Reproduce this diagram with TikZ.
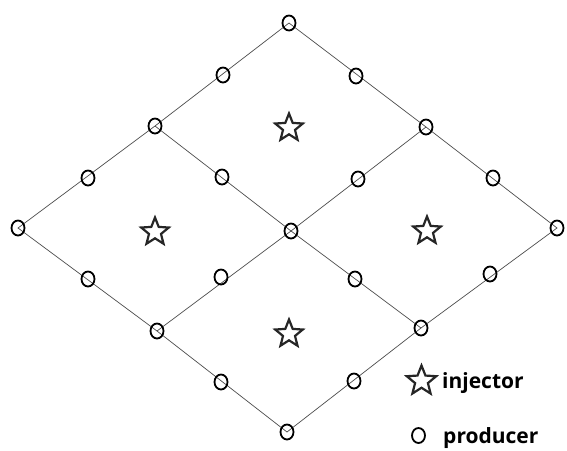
\documentclass[tikz,border=0pt]{standalone}
\usepackage{fontspec}
\setmainfont{Open Sans}
\usetikzlibrary{shapes.geometric}
\begin{document}
\begin{tikzpicture}[x=1pt,y=-1pt,
  well/.style={draw=black,line width=1.8pt,ellipse,minimum width=13pt,minimum height=15pt,inner sep=0pt},
  inj/.style={draw=black!85,line width=2.2pt,star,star points=5,star point ratio=2.3,minimum size=29pt,inner sep=0pt},
  grid/.style={draw=black!70,line width=0.7pt},
  lbl/.style={font=\bfseries\fontsize{21}{24}\selectfont,anchor=base west,inner sep=0pt}]
\useasboundingbox (0,0) rectangle (567,450);
% corner / vertex coordinates
\coordinate (T) at (289,23);
\coordinate (L) at (18,228);
\coordinate (R) at (557,228);
\coordinate (B) at (287,432);
\coordinate (C) at (291,231);
\coordinate (UL) at (155,126);
\coordinate (UR) at (426,127);
\coordinate (LL) at (157,331);
\coordinate (LR) at (421,328);
% grid lines
\draw[grid] (L) -- (UL) -- (T) -- (UR) -- (R) -- (LR) -- (B) -- (LL) -- cycle;
\draw[grid] (UL) -- (C) -- (LR);
\draw[grid] (UR) -- (C) -- (LL);
% producers
\foreach \n/\p in {t/T,l/L,r/R,b/B,c/C,ul/UL,ur/UR,ll/LL,lr/LR}
  \node[well] (w\n) at (\p) {};
\node[well] (m1) at (223,75) {};
\node[well] (m2) at (356,76) {};
\node[well] (m3) at (88,178) {};
\node[well] (m4) at (222,177) {};
\node[well] (m5) at (358,179) {};
\node[well] (m6) at (493,178) {};
\node[well] (m7) at (88,279) {};
\node[well] (m8) at (221,277) {};
\node[well] (m9) at (355,279) {};
\node[well] (m10) at (490,274) {};
\node[well] (m11) at (221,382) {};
\node[well] (m12) at (354,381) {};
% injectors
\node[inj] (s1) at (289,128) {};
\node[inj] (s2) at (155,232) {};
\node[inj] (s3) at (427,231) {};
\node[inj] (s4) at (289,334) {};
% legend
\node[inj,minimum size=31pt] (ls) at (421.5,381) {};
\node[lbl] (li) at (442,388) {injector};
\node[well] (lw) at (418.5,435.5) {};
\node[lbl] (lp) at (443,443) {producer};
\end{tikzpicture}
\end{document}
